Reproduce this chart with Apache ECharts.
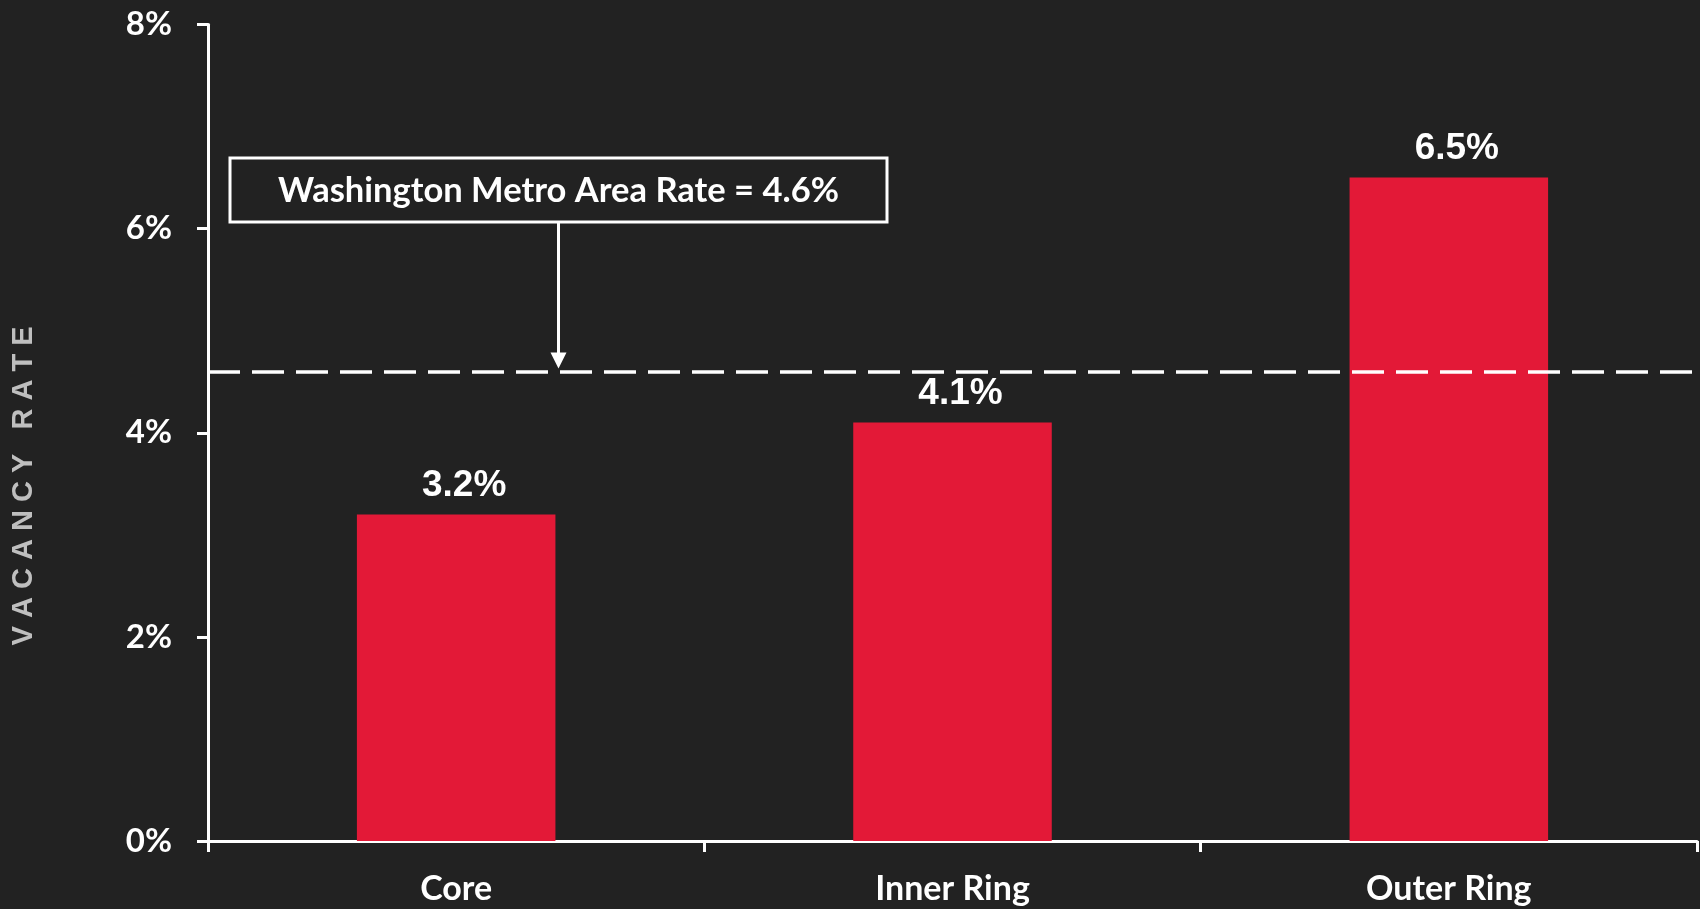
<!DOCTYPE html>
<html>
<head>
<meta charset="utf-8">
<script src="https://cdn.jsdelivr.net/npm/echarts@6/dist/echarts.min.js"></script>
<style>
html,body{margin:0;padding:0;background:#222222;}
#chart{width:1700px;height:909px;}
</style>
</head>
<body>
<div id="chart"></div>
<script>
const categories = ['Core', 'Inner Ring', 'Outer Ring'];
const vacancyRates = [3.2, 4.1, 6.5];
const metroRate = 4.6;
const metroLabel = 'Washington Metro Area Rate = 4.6%';
const yTicks = [0, 2, 4, 6, 8];
const yAxisTitle = 'V A C A N C Y   R A T E';

const chart = echarts.init(document.getElementById('chart'), null, {renderer: 'canvas'});
const labelFont = 'Lato';

chart.setOption({
  backgroundColor: '#222222',
  animation: false,
  grid: {left: 208, right: 3, top: 24.5, bottom: 68, containLabel: false},
  xAxis: {
    type: 'category',
    data: categories,
    axisLine: {lineStyle: {color: '#ffffff', width: 3}},
    axisTick: {show: true, length: 11, lineStyle: {color: '#ffffff', width: 3}},
    axisLabel: {color: '#ffffff', fontFamily: labelFont, fontWeight: 'bold', fontSize: 34, margin: 31}
  },
  yAxis: {
    type: 'value',
    min: yTicks[0],
    max: yTicks[yTicks.length - 1],
    interval: 2,
    splitLine: {show: false},
    axisLine: {show: true, lineStyle: {color: '#ffffff', width: 3}},
    axisTick: {show: true, length: 11, lineStyle: {color: '#ffffff', width: 3}},
    axisLabel: {color: '#ffffff', fontFamily: labelFont, fontWeight: 'bold', fontSize: 33, margin: 36,
      formatter: v => v + '%'}
  },
  series: [{
    type: 'bar',
    data: vacancyRates,
    barWidth: '40%',
    itemStyle: {color: '#E31937'},
    label: {
      show: true, position: 'top', distance: 10, offset: [8, 0],
      color: '#ffffff', fontFamily: 'Liberation Sans, Arial', fontWeight: 'bold', fontSize: 37,
      formatter: p => p.value.toFixed(1) + '%'
    },
    markLine: {
      silent: true,
      symbol: ['none', 'none'],
      label: {show: false},
      lineStyle: {color: '#ffffff', width: 3.5, type: [32, 12]},
      data: [{yAxis: metroRate}]
    }
  }]
});

function drawAnnotation() {
  const lineY = chart.convertToPixel({yAxisIndex: 0}, metroRate);
  const boxX = 230, boxY = 158, boxW = 657, boxH = 64;
  const cx = boxX + boxW / 2;
  const tipY = lineY - 3;
  chart.setOption({
    graphic: [
      {type: 'rect', shape: {x: boxX, y: boxY, width: boxW, height: boxH},
        style: {fill: '#222222', stroke: '#ffffff', lineWidth: 3}, z: 10},
      {type: 'text', x: cx, y: boxY + boxH / 2 + 1, z: 11,
        style: {text: metroLabel, fill: '#ffffff', font: 'bold 34.5px Lato', align: 'center', verticalAlign: 'middle'}},
      {type: 'line', shape: {x1: cx, y1: boxY + boxH, x2: cx, y2: tipY - 14},
        style: {stroke: '#ffffff', lineWidth: 3}, z: 10},
      {type: 'polygon', shape: {points: [[cx - 8, tipY - 16], [cx + 8, tipY - 16], [cx, tipY]]},
        style: {fill: '#ffffff'}, z: 10},
      {type: 'text', x: 24, y: 486, rotation: Math.PI / 2, z: 10,
        style: {text: yAxisTitle, fill: '#BFBFBF', font: 'bold 29px "Liberation Sans", Arial', align: 'center', verticalAlign: 'middle'}}
    ]
  });
}
drawAnnotation();
</script>
</body>
</html>
